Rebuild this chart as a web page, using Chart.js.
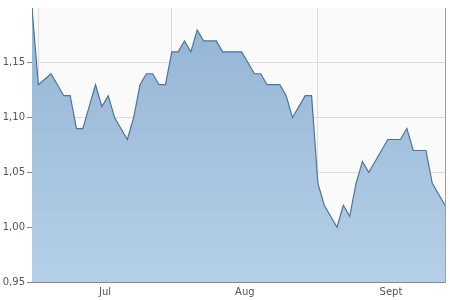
<!DOCTYPE html>
<html>
<head>
<meta charset="utf-8">
<script src="https://cdn.jsdelivr.net/npm/chart.js@4.4.1/dist/chart.umd.min.js"></script>
<style>
  html, body { margin: 0; padding: 0; background: #ffffff; }
  #wrap { width: 450px; height: 300px; position: relative; }
</style>
</head>
<body>
<div id="wrap"><canvas id="c" width="450" height="300"></canvas></div>
<script>
// Daily closing values (trading days, end of June through end of September)
const values = [1.20,1.13,1.135,1.14,1.13,1.12,1.12,1.09,1.09,1.11,1.13,1.11,1.12,1.10,1.09,1.08,1.10,
  1.13,1.14,1.14,1.13,1.13,1.16,1.16,1.17,1.16,1.18,1.17,1.17,1.17,1.16,1.16,1.16,1.16,1.15,1.14,1.14,
  1.13,1.13,1.13,1.12,1.10,1.11,1.12,1.12,1.04,1.02,1.01,1.00,1.02,1.01,1.04,1.06,1.05,1.06,1.07,1.08,
  1.08,1.08,1.09,1.07,1.07,1.07,1.04,1.03,1.02];
// Month labels and the index of the first trading day of each month
const monthLabels = ['Jul', 'Aug', 'Sept'];
const monthStarts = [1, 22, 45];
const monthEnds = [22, 45, 68];
// Y-axis tick values
const yTicks = [0.95, 1.00, 1.05, 1.10, 1.15];
const yMin = 0.95, yMax = 1.20;

const points = values.map((v, i) => ({ x: i, y: v }));
const labelPos = monthStarts.map((s, i) => (s + monthEnds[i]) / 2);

const bgPlugin = {
  id: 'bg',
  beforeDraw(chart) {
    const { ctx, chartArea: a } = chart;
    ctx.save();
    ctx.fillStyle = '#fafafa';
    ctx.fillRect(a.left, a.top, a.right - a.left, a.bottom - a.top);
    ctx.restore();
  }
};

const font = { family: 'DejaVu Sans', size: 10 };

new Chart(document.getElementById('c'), {
  type: 'line',
  data: {
    datasets: [{
      data: points,
      borderColor: '#4f7499',
      borderWidth: 1.2,
      pointRadius: 0,
      tension: 0,
      fill: 'start',
      backgroundColor(ctx) {
        const a = ctx.chart.chartArea;
        if (!a) return '#a6c2de';
        const g = ctx.chart.ctx.createLinearGradient(0, a.top, 0, a.bottom);
        g.addColorStop(0, '#93b4d4');
        g.addColorStop(1, '#b5cfe8');
        return g;
      }
    }]
  },
  options: {
    responsive: false,
    animation: false,
    events: [],
    layout: { padding: { top: 8, right: 0, left: 0, bottom: 0 } },
    plugins: { legend: { display: false }, tooltip: { enabled: false } },
    scales: {
      x: {
        type: 'linear',
        position: 'bottom',
        min: 0,
        max: values.length - 1,
        afterBuildTicks(s) { s.ticks = monthStarts.map(v => ({ value: v })); },
        afterFit(s) { s.height = 0; },
        ticks: { display: false },
        grid: { color: '#dcdcdc', drawTicks: false, lineWidth: 1 },
        border: { color: '#8a8a8a', width: 1 }
      },
      x2: {
        type: 'linear',
        position: 'bottom',
        min: 0,
        max: values.length - 1,
        afterBuildTicks(s) { s.ticks = labelPos.map(v => ({ value: v })); },
        afterFit(s) { s.height = 18; },
        ticks: {
          font: font,
          color: '#555555',
          padding: -4,
          maxRotation: 0,
          autoSkip: false,
          callback(v, i) { return monthLabels[i]; }
        },
        grid: { display: false },
        border: { display: false }
      },
      y: {
        position: 'left',
        min: yMin,
        max: yMax,
        afterBuildTicks(s) { s.ticks = yTicks.map(v => ({ value: v })); },
        afterFit(s) { s.width = 32; },
        ticks: {
          font: font,
          color: '#555555',
          padding: 2,
          callback(v) { return v.toFixed(2).replace('.', ','); }
        },
        grid: { color: '#dcdcdc', tickColor: '#8a8a8a', tickLength: 5, lineWidth: 1 },
        border: { color: '#8a8a8a', width: 1 }
      },
      yr: {
        position: 'right',
        min: yMin,
        max: yMax,
        afterFit(s) { s.width = 5; },
        ticks: { display: false },
        grid: { display: false },
        border: { color: '#a0a0a0', width: 1 }
      }
    }
  },
  plugins: [bgPlugin]
});
</script>
</body>
</html>
